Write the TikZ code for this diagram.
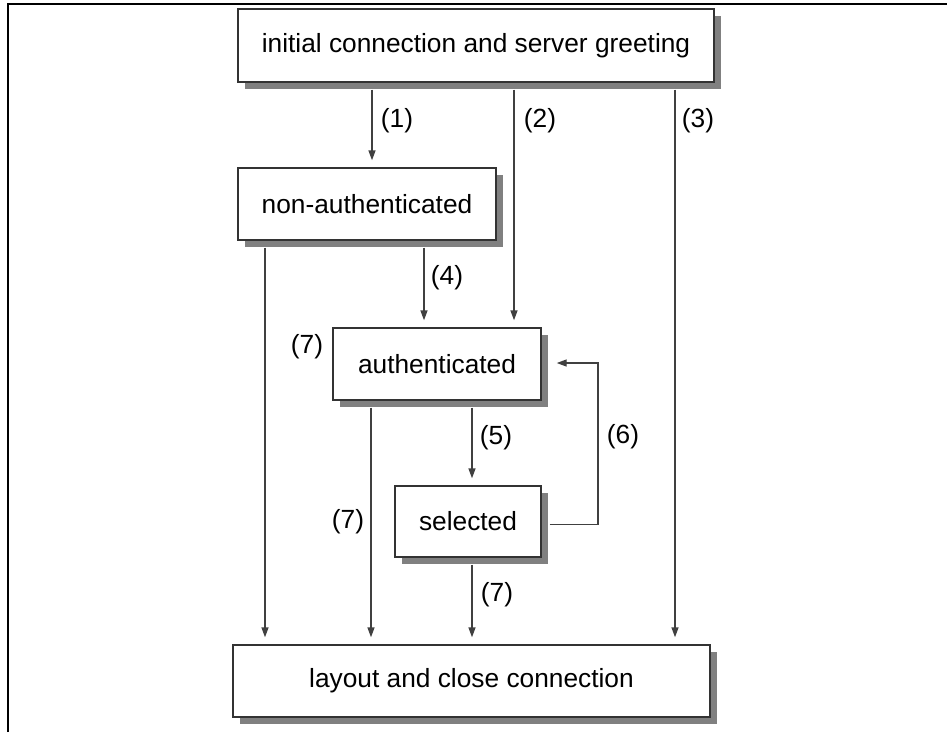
\documentclass[tikz,border=0pt]{standalone}
\usepackage{fontspec}
\setmainfont{Liberation Sans}
\usetikzlibrary{arrows.meta,shadows,calc}
\begin{document}
\begin{tikzpicture}[x=1pt,y=-1pt,
  box/.style={draw=black!80,line width=1.4pt,fill=white,inner sep=0pt,
    font=\fontsize{26.3}{29}\selectfont,
    drop shadow={shadow xshift=7pt,shadow yshift=-7pt,fill=black!50,opacity=1}},
  arr/.style={draw=black!75,line width=1.4pt,-{Triangle[length=10pt,width=7pt]}},
  lbl/.style={inner sep=0pt,font=\fontsize{26.3}{29}\selectfont}]
\useasboundingbox (0,0) rectangle (947,732);
\draw[black,line width=1.5pt] (8,732) -- (8,4) -- (947,4);
% boxes
\node[box,minimum width=476pt,minimum height=73pt] (init) at (476,45.5) {initial connection and server greeting};
\node[box,minimum width=258pt,minimum height=72pt] (nonauth) at (367,204) {non-authenticated};
\node[box,minimum width=208pt,minimum height=72pt] (auth) at (437,364) {authenticated};
\node[box,minimum width=146pt,minimum height=71pt] (sel) at (468,521.5) {selected};
\node[box,minimum width=477pt,minimum height=72pt] (close) at (471.5,681) {layout and close connection};
% connectors
\draw[arr] ($(init.south -| 372,0)+(0,7)$) -- ($(nonauth.north -| 372,0)+(0,-7)$);
\draw[arr] ($(init.south -| 514,0)+(0,7)$) -- ($(auth.north -| 514,0)+(0,-7)$);
\draw[arr] ($(init.south -| 675,0)+(0,7)$) -- ($(close.north -| 675,0)+(0,-7)$);
\draw[arr] ($(nonauth.south -| 265,0)+(0,7)$) -- ($(close.north -| 265,0)+(0,-7)$);
\draw[arr] ($(nonauth.south -| 424,0)+(0,7)$) -- ($(auth.north -| 424,0)+(0,-7)$);
\draw[arr] ($(auth.south -| 371,0)+(0,7)$) -- ($(close.north -| 371,0)+(0,-7)$);
\draw[arr] ($(auth.south -| 472,0)+(0,7)$) -- ($(sel.north -| 472,0)+(0,-7)$);
\draw[arr] ($(sel.south -| 472,0)+(0,7)$) -- ($(close.north -| 472,0)+(0,-7)$);
\coordinate (loop) at (598,0);
\draw[arr] ($(sel.east)+(8,3)$) -| ($(auth.east -| loop)+(0,-1)$) -- ($(auth.east)+(15,-1)$);
% labels
\node[lbl] (l1) at (397,121) {(1)};
\node[lbl] (l2) at (540,121) {(2)};
\node[lbl] (l3) at (698,121) {(3)};
\node[lbl] (l4) at (447,278) {(4)};
\node[lbl] (l7a) at (307,347) {(7)};
\node[lbl] (l5) at (496,438) {(5)};
\node[lbl] (l6) at (623,437) {(6)};
\node[lbl] (l7b) at (348,522) {(7)};
\node[lbl] (l7c) at (497,595) {(7)};
\end{tikzpicture}
\end{document}
